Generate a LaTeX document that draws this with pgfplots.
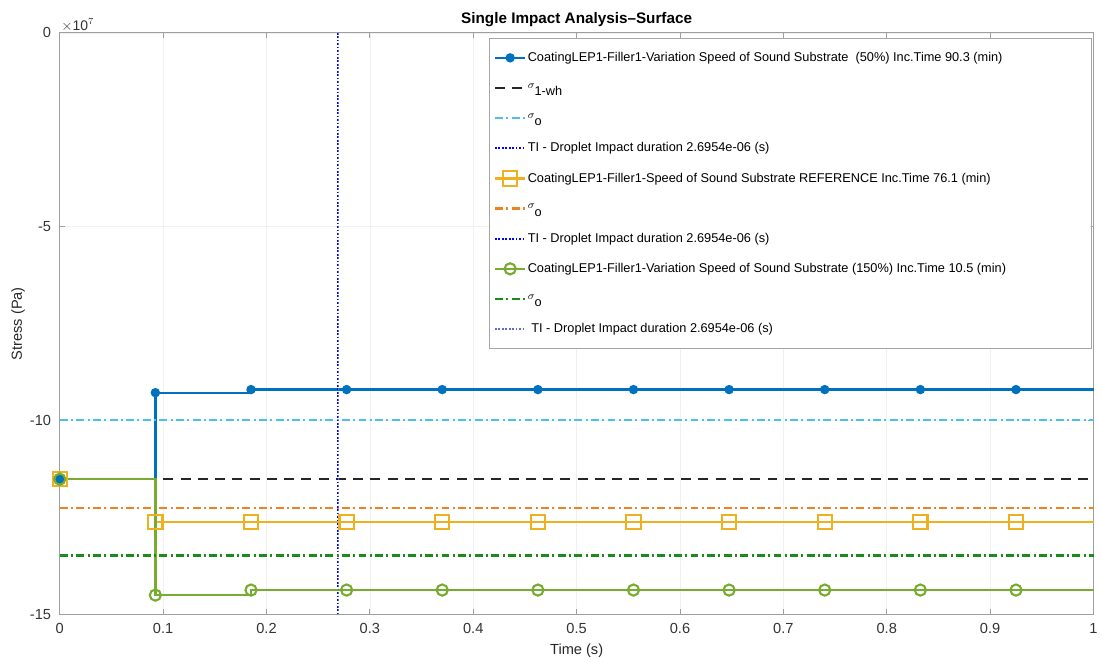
\documentclass[border=0pt]{standalone}
\usepackage{pgfplots}
\pgfplotsset{compat=1.18}
\usepackage{amsmath}
\usepackage{fontspec}
\setmainfont{Liberation Sans}
\usetikzlibrary{calc}

\definecolor{mblue}{RGB}{0,114,189}
\definecolor{myellow}{RGB}{237,177,32}
\definecolor{mgreen}{RGB}{119,172,48}
\definecolor{mcyan}{RGB}{77,190,238}
\definecolor{morange}{RGB}{237,130,30}
\definecolor{dgreen}{RGB}{25,140,25}
\definecolor{slate}{RGB}{90,110,190}

\tikzset{
  mdash/.style={dash pattern=on 7.5pt off 5.5pt},
  mdashdot/.style={dash pattern=on 6pt off 2.5pt on 1.5pt off 2.5pt},
  mdot/.style={dash pattern=on 1.3pt off 1.3pt},
}
\newcommand{\sig}[1]{\raisebox{2.5pt}{\footnotesize$\sigma$}\raisebox{-3pt}{#1}}

\begin{document}
\begin{tikzpicture}
\begin{axis}[
    scale only axis,
    width=778.5pt, height=438pt,
    xmin=0, xmax=1, ymin=-15, ymax=0,
    xtick={0,0.1,...,1.0},
    xticklabels={0,0.1,0.2,0.3,0.4,0.5,0.6,0.7,0.8,0.9,1},
    ytick={-15,-10,-5,0},
    /pgf/number format/assume math mode=true,
    tick label style={font=\fontsize{11}{13}\selectfont, color=black!80},
    xticklabel style={yshift=-3pt},
    yticklabel style={xshift=-3pt},
    label style={font=\fontsize{11}{13}\selectfont, color=black!85},
    xlabel={Time (s)},
    ylabel={Stress (Pa)},
    xlabel style={yshift=-1pt},
    ylabel style={yshift=-3pt},
    title={\bfseries Single Impact Analysis–Surface},
    title style={font=\fontsize{11.5}{13}\selectfont, yshift=-5pt},
    tick align=inside,
    major tick length=4pt,
    axis line style={gray!75, line width=0.6pt},
    tick style={gray!75, line width=0.6pt},
    grid=major,
    grid style={gray!12, line width=0.5pt},
    clip=false,
    legend cell align=left,
    legend style={
        at={(0.998,0.9914)}, anchor=north east,
        font=\fontsize{9.6}{11}\selectfont,
        draw=gray!70, line width=0.6pt,
        row sep=9.2pt,
        inner xsep=3pt, inner ysep=8pt,
        nodes={inner sep=1pt, text height=8.5pt, text depth=3pt},
    },
    legend image code/.code={
        \draw[#1, mark indices={2}]
            plot coordinates {(0cm,0cm) (0.4cm,0cm) (0.8cm,0cm)};
    },
]
% blue series (50%)
\addplot[const plot, mblue, line width=1.8pt, mark=*, mark size=2.6pt,
         mark options={solid}, mark indices={1,...,11}] coordinates {
    (0,-11.51) (0.0925,-9.28) (0.185,-9.20) (0.2775,-9.20) (0.37,-9.20)
    (0.4625,-9.20) (0.555,-9.20) (0.6475,-9.20) (0.74,-9.20) (0.8325,-9.20)
    (0.925,-9.20) (1.0,-9.20)
};
\addlegendentry{CoatingLEP1-Filler1-Variation Speed of Sound Substrate\ \ (50\%) Inc.Time 90.3 (min)}
\addplot[black!85, line width=1.8pt, mdash] coordinates {(0,-11.51) (1,-11.51)};
\addlegendentry{\sig{1-wh}}
\addplot[mcyan, line width=1.8pt, mdashdot] coordinates {(0,-9.98) (1,-9.98)};
\addlegendentry{\sig{o}}
\addplot[blue, line width=1.6pt, mdot] coordinates {(0.26954,0) (0.26954,-15)};
\addlegendentry{TI - Droplet Impact duration 2.6954e-06 (s)}
% yellow series (reference)
\addplot[const plot, myellow, line width=1.8pt, mark=square, mark size=5.4pt,
         mark options={solid, line width=1.6pt}, mark indices={1,...,11}] coordinates {
    (0,-11.51) (0.0925,-12.62) (0.185,-12.62) (0.2775,-12.62) (0.37,-12.62)
    (0.4625,-12.62) (0.555,-12.62) (0.6475,-12.62) (0.74,-12.62) (0.8325,-12.62)
    (0.925,-12.62) (1.0,-12.62)
};
\addlegendentry{CoatingLEP1-Filler1-Speed of Sound Substrate REFERENCE Inc.Time 76.1 (min)}
\addplot[morange, line width=1.8pt, mdashdot] coordinates {(0,-12.26) (1,-12.26)};
\addlegendentry{\sig{o}}
\addplot[blue, line width=1.6pt, mdot] coordinates {(0.26954,0) (0.26954,-15)};
\addlegendentry{TI - Droplet Impact duration 2.6954e-06 (s)}
% green series (150%)
\addplot[const plot, mgreen, line width=1.8pt, mark=o, mark size=4.2pt,
         mark options={solid, line width=1.6pt}, mark indices={1,...,11}] coordinates {
    (0,-11.51) (0.0925,-14.50) (0.185,-14.37) (0.2775,-14.37) (0.37,-14.37)
    (0.4625,-14.37) (0.555,-14.37) (0.6475,-14.37) (0.74,-14.37) (0.8325,-14.37)
    (0.925,-14.37) (1.0,-14.37)
};
\addlegendentry{CoatingLEP1-Filler1-Variation Speed of Sound Substrate (150\%) Inc.Time 10.5 (min)\hspace*{60pt}}
\addplot[dgreen, line width=1.8pt, mdashdot] coordinates {(0,-13.48) (1,-13.48)};
\addlegendentry{\sig{o}}
\addplot[slate, line width=1.2pt, mdot] coordinates {(0.26954,0) (0.26954,-15)};
\addlegendentry{\ TI - Droplet Impact duration 2.6954e-06 (s)}

\node[anchor=south west, font=\fontsize{10.5}{12}\selectfont, color=black!80, inner sep=1pt]
    at (rel axis cs:0,1) {$\times$10$^{7}$};
\node[anchor=north east, font=\fontsize{10.5}{12}\selectfont, color=black!80, inner sep=1pt]
    at ($(rel axis cs:1,0)+(0,-19pt)$) {$\times$10$^{-5}$};
\end{axis}
\path ($(current axis.south west)+(-45pt,-33pt)$) rectangle ($(current axis.north east)+(3pt,24.75pt)$);
\end{tikzpicture}
\end{document}
